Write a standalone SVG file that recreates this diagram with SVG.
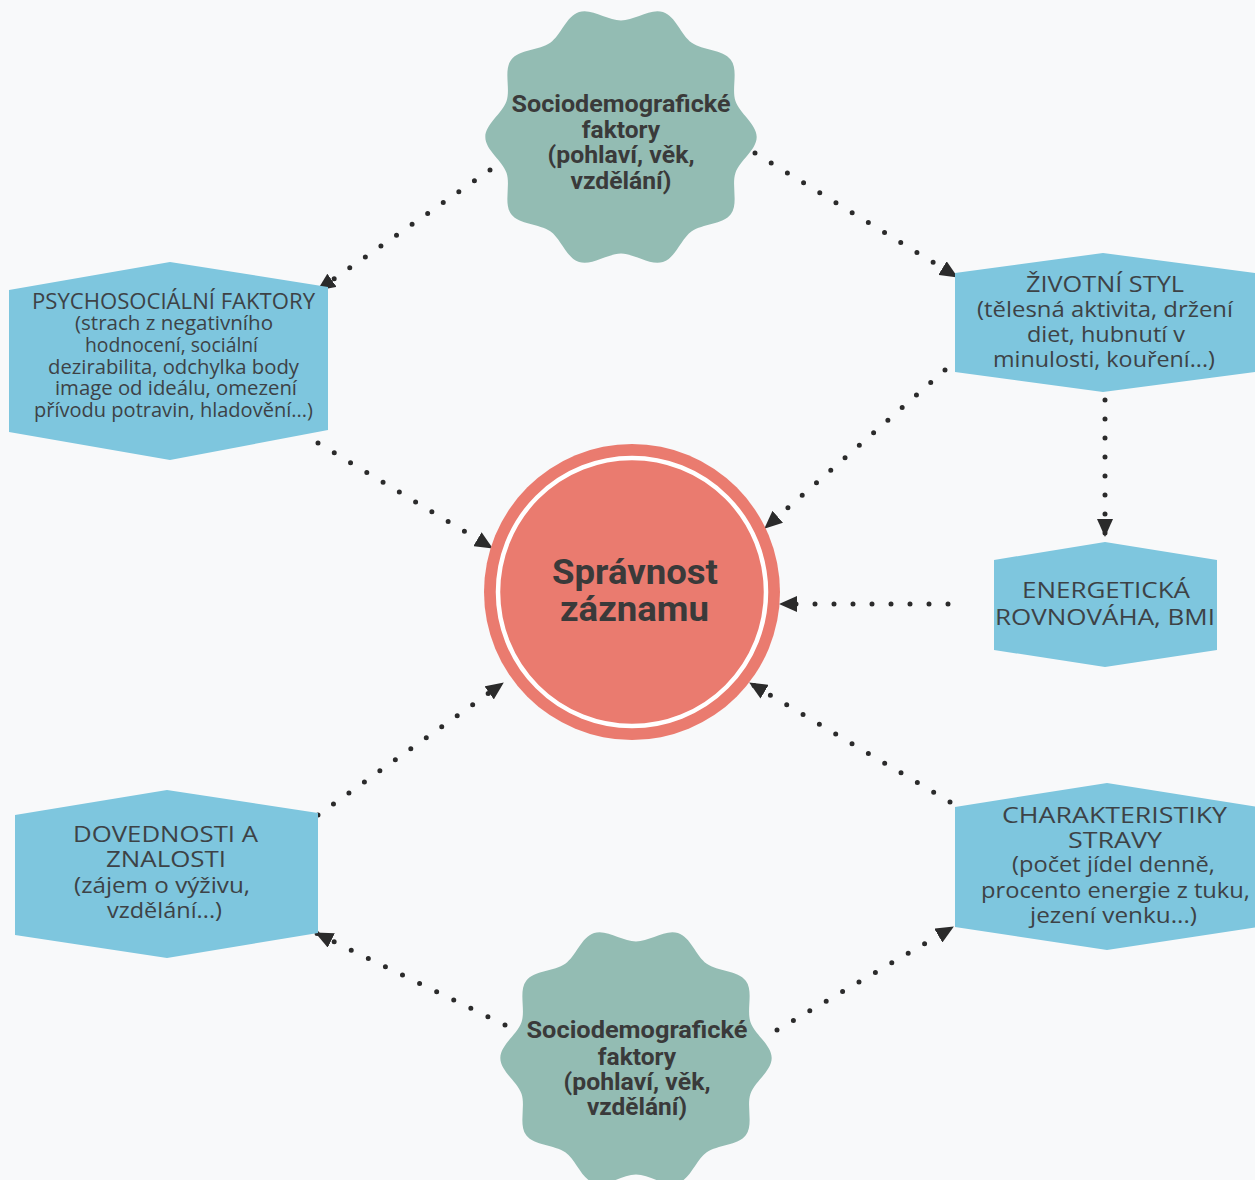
<svg xmlns="http://www.w3.org/2000/svg" width="1255" height="1180" viewBox="0 0 1255 1180">
<style>
.bg{fill:#f8f9fa}
.cloud{fill:#93bcb3}
.hex{fill:#7ec6de}
.ring{fill:#ea7b6f}
.ct{font-family:Roboto,"Liberation Sans",sans-serif;font-weight:bold;font-size:24.5px;fill:#3a3a3a;text-anchor:middle}
.ht{font-family:"Open Sans",Lato,sans-serif;font-size:22px;fill:#3d4246;text-anchor:middle}
.hs{font-family:"Open Sans",Lato,sans-serif;font-size:19.5px;fill:#3d4246;text-anchor:middle}
.main{font-family:Roboto,"Liberation Sans",sans-serif;font-weight:bold;font-size:35px;fill:#3a3a3a;text-anchor:middle}
.con{fill:none;stroke:#2b2b2b;stroke-width:5;stroke-linecap:round;stroke-dasharray:0 19}
</style>
<defs>
<marker id="ah" markerUnits="userSpaceOnUse" markerWidth="18" markerHeight="16" refX="17" refY="8" orient="auto">
<path d="M0,0 L18,8 L0,16 Z" fill="#2b2b2b"/>
</marker>
<path id="wavy" d="M106,0 C106,10.5 92.64,19.06 89.4,29.05 C86.16,39.04 91.93,53.82 85.76,62.31 C79.59,70.8 63.74,69.88 55.25,76.05 C46.76,82.22 42.74,97.58 32.75,100.82 C22.76,104.06 10.5,94 0,94 C-10.5,94 -22.76,104.06 -32.75,100.82 C-42.74,97.58 -46.76,82.22 -55.25,76.05 C-63.74,69.88 -79.59,70.8 -85.76,62.31 C-91.93,53.82 -86.16,39.04 -89.4,29.05 C-92.64,19.06 -106,10.5 -106,0 C-106,-10.5 -92.64,-19.06 -89.4,-29.05 C-86.16,-39.04 -91.93,-53.82 -85.76,-62.31 C-79.59,-70.8 -63.74,-69.88 -55.25,-76.05 C-46.76,-82.22 -42.74,-97.58 -32.75,-100.82 C-22.76,-104.06 -10.5,-94 0,-94 C10.5,-94 22.76,-104.06 32.75,-100.82 C42.74,-97.58 46.76,-82.22 55.25,-76.05 C63.74,-69.88 79.59,-70.8 85.76,-62.31 C91.93,-53.82 86.16,-39.04 89.4,-29.05 C92.64,-19.06 106,-10.5 106,0 Z"/>
</defs>
<rect class="bg" x="0" y="0" width="1255" height="1180"/>

<g id="connectors">
<path class="con" d="M490,170 L318,290" marker-end="url(#ah)"/>
<path class="con" d="M755,153 L957,277" marker-end="url(#ah)"/>
<path class="con" d="M318,443 L492,548" marker-end="url(#ah)"/>
<path class="con" d="M945,370 L765,528" marker-end="url(#ah)"/>
<path class="con" d="M1105,400 L1105,536" marker-end="url(#ah)"/>
<path class="con" d="M948,604 L780,604" marker-end="url(#ah)"/>
<path class="con" d="M950,802 L750,683" marker-end="url(#ah)"/>
<path class="con" d="M318,815 L503,683" marker-end="url(#ah)"/>
<path class="con" d="M505,1025 L316,933" marker-end="url(#ah)"/>
<path class="con" d="M777,1030 L953,927" marker-end="url(#ah)"/>
</g>

<g id="socio-top">
<use href="#wavy" class="cloud" transform="translate(621,137) scale(1.28,1.24)"/>
<text class="ct" x="621" y="112" textLength="219" lengthAdjust="spacingAndGlyphs">Sociodemografické</text>
<text class="ct" x="621" y="138">faktory</text>
<text class="ct" x="621" y="163" textLength="147" lengthAdjust="spacingAndGlyphs">(pohlaví, věk,</text>
<text class="ct" x="621" y="189" textLength="101" lengthAdjust="spacingAndGlyphs">vzdělání)</text>
</g>

<g id="psycho">
<polygon class="hex" points="9,290 170,262 328,287 328,430 170,460 9,432"/>
<text class="hs" x="173.5" y="309" style="font-size:21px" textLength="283" lengthAdjust="spacingAndGlyphs">PSYCHOSOCIÁLNÍ FAKTORY</text>
<text class="hs" x="174" y="330" textLength="198" lengthAdjust="spacingAndGlyphs">(strach z negativního</text>
<text class="hs" x="171.5" y="352" textLength="173" lengthAdjust="spacingAndGlyphs">hodnocení, sociální</text>
<text class="hs" x="173.5" y="374" textLength="251" lengthAdjust="spacingAndGlyphs">dezirabilita, odchylka body</text>
<text class="hs" x="176" y="395" textLength="242" lengthAdjust="spacingAndGlyphs">image od ideálu, omezení</text>
<text class="hs" x="173.5" y="417" textLength="279" lengthAdjust="spacingAndGlyphs">přívodu potravin, hladovění...)</text>
</g>

<g id="zivotni">
<polygon class="hex" points="955,273 1103,253 1255,273 1255,372 1103,392 955,372"/>
<text class="ht" x="1105" y="292" textLength="158" lengthAdjust="spacingAndGlyphs">ŽIVOTNÍ STYL</text>
<text class="ht" x="1105" y="317" textLength="256" lengthAdjust="spacingAndGlyphs">(tělesná aktivita, držení</text>
<text class="ht" x="1106" y="342" textLength="158" lengthAdjust="spacingAndGlyphs">diet, hubnutí v</text>
<text class="ht" x="1104" y="367" textLength="222" lengthAdjust="spacingAndGlyphs">minulosti, kouření...)</text>
</g>

<g id="energeticka">
<polygon class="hex" points="994,560 1105,542 1217,560 1217,650 1105,667 994,650"/>
<text class="ht" x="1106" y="598" textLength="168" lengthAdjust="spacingAndGlyphs">ENERGETICKÁ</text>
<text class="ht" x="1105" y="625" textLength="220" lengthAdjust="spacingAndGlyphs">ROVNOVÁHA, BMI</text>
</g>

<g id="spravnost">
<circle class="ring" cx="632" cy="592" r="148"/>
<circle cx="632" cy="592" r="134" fill="none" stroke="#ffffff" stroke-width="4.5"/>
<text class="main" x="635" y="584" textLength="166" lengthAdjust="spacingAndGlyphs">Správnost</text>
<text class="main" x="634.5" y="621" textLength="149" lengthAdjust="spacingAndGlyphs">záznamu</text>
</g>

<g id="dovednosti">
<polygon class="hex" points="15,815 167,790 318,813 318,933 167,958 15,935"/>
<text class="ht" x="165.5" y="842" textLength="185" lengthAdjust="spacingAndGlyphs">DOVEDNOSTI A</text>
<text class="ht" x="166" y="867" textLength="120" lengthAdjust="spacingAndGlyphs">ZNALOSTI</text>
<text class="ht" x="162" y="893" textLength="176" lengthAdjust="spacingAndGlyphs">(zájem o výživu,</text>
<text class="ht" x="164.5" y="918" textLength="115" lengthAdjust="spacingAndGlyphs">vzdělání...)</text>
</g>

<g id="charakteristiky">
<polygon class="hex" points="955,807 1107,783 1258,807 1258,927 1107,950 955,927"/>
<text class="ht" x="1114.5" y="823" textLength="225" lengthAdjust="spacingAndGlyphs">CHARAKTERISTIKY</text>
<text class="ht" x="1115" y="848" textLength="94" lengthAdjust="spacingAndGlyphs">STRAVY</text>
<text class="ht" x="1113.5" y="872" textLength="203" lengthAdjust="spacingAndGlyphs">(počet jídel denně,</text>
<text class="ht" x="1115.5" y="898" textLength="269" lengthAdjust="spacingAndGlyphs">procento energie z tuku,</text>
<text class="ht" x="1113.5" y="923" textLength="167" lengthAdjust="spacingAndGlyphs">jezení venku...)</text>
</g>

<g id="socio-bottom">
<use href="#wavy" class="cloud" transform="translate(636,1058) scale(1.28,1.24)"/>
<text class="ct" x="637" y="1038" textLength="221" lengthAdjust="spacingAndGlyphs">Sociodemografické</text>
<text class="ct" x="637" y="1065">faktory</text>
<text class="ct" x="637" y="1090" textLength="147" lengthAdjust="spacingAndGlyphs">(pohlaví, věk,</text>
<text class="ct" x="637" y="1115" textLength="100" lengthAdjust="spacingAndGlyphs">vzdělání)</text>
</g>
</svg>
